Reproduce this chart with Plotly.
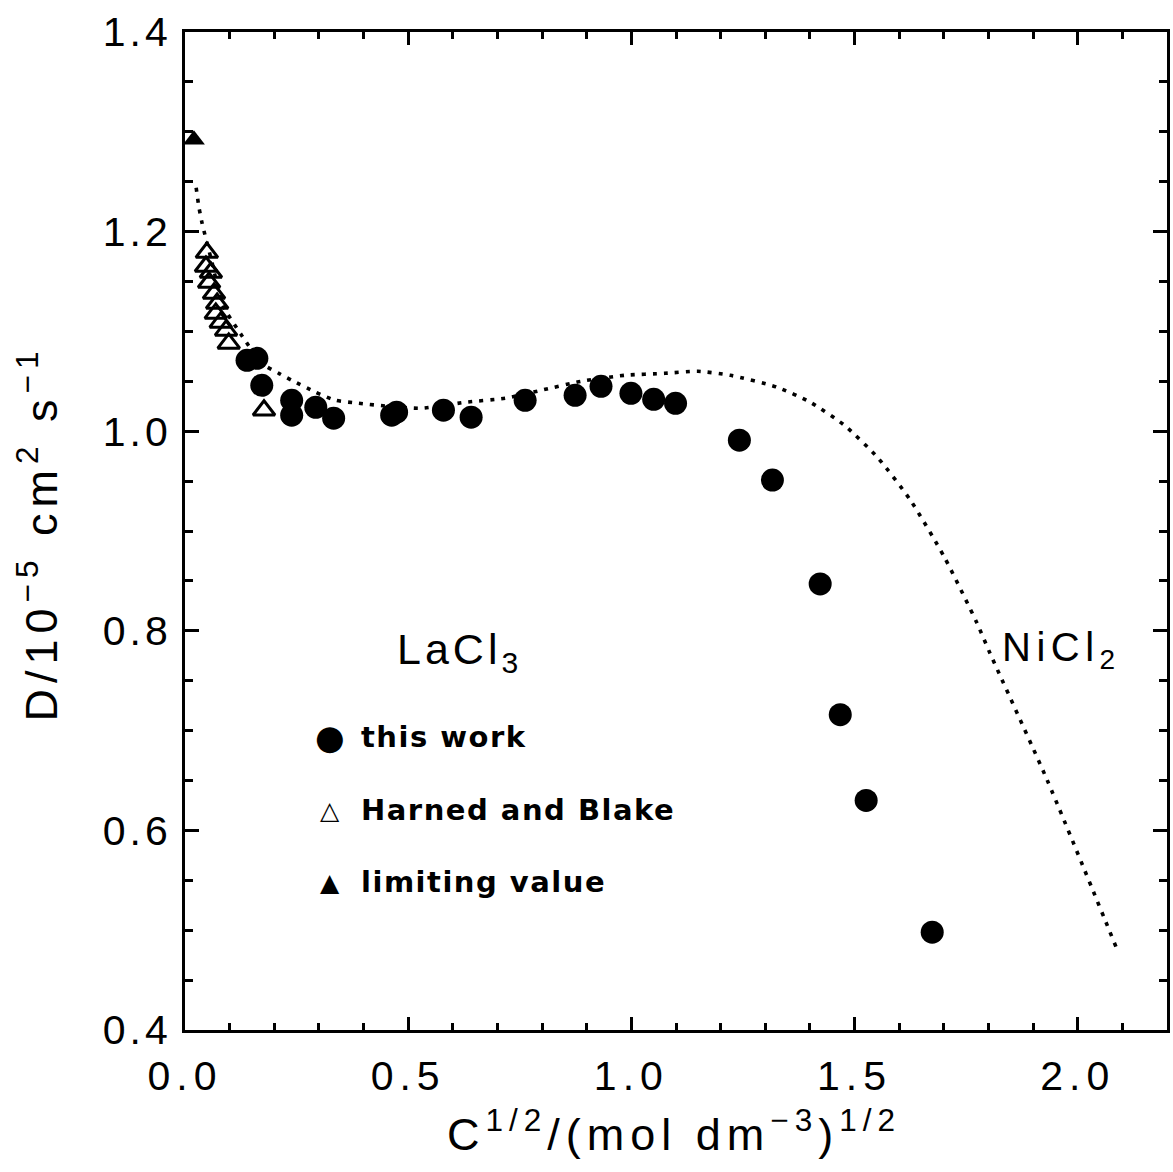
import plotly.graph_objects as go

# ---- data ----
this_work_x = [0.139, 0.161, 0.172, 0.239, 0.239, 0.293, 0.333, 0.463, 0.474, 0.579, 0.641,
               0.762, 0.874, 0.932, 0.999, 1.050, 1.099, 1.242, 1.316, 1.423, 1.468, 1.526, 1.674]
this_work_y = [1.071, 1.073, 1.046, 1.031, 1.016, 1.024, 1.013, 1.016, 1.019, 1.021, 1.014,
               1.031, 1.036, 1.045, 1.038, 1.032, 1.028, 0.991, 0.951, 0.847, 0.716, 0.630, 0.498]

harned_x = [0.049, 0.047, 0.058, 0.054, 0.065, 0.072, 0.069, 0.080, 0.092, 0.098, 0.177]
harned_y = [1.179, 1.165, 1.159, 1.149, 1.138, 1.128, 1.118, 1.109, 1.101, 1.088, 1.021]

limit_x = [0.020]
limit_y = [1.292]

nicl2_x = [0.025, 0.031, 0.038, 0.060, 0.085, 0.127, 0.172, 0.210, 0.239, 0.293, 0.337, 0.389,
           0.456, 0.530, 0.628, 0.717, 0.798, 0.887, 0.985, 1.075, 1.149, 1.222, 1.327,
           1.401, 1.477, 1.551, 1.625, 1.701, 1.774, 1.803, 1.931, 2.087]
nicl2_y = [1.244, 1.225, 1.209, 1.170, 1.126, 1.096, 1.068, 1.058, 1.051, 1.039, 1.031, 1.028,
           1.025, 1.023, 1.029, 1.033, 1.041, 1.050, 1.056, 1.058, 1.060, 1.056, 1.044,
           1.029, 1.006, 0.974, 0.931, 0.874, 0.808, 0.778, 0.651, 0.482]

x_ticks = [0.0, 0.5, 1.0, 1.5, 2.0]
y_ticks = [0.4, 0.6, 0.8, 1.0, 1.2, 1.4]

W, H = 1173, 1172
ML, MR, MT, MB = 185, 3, 32, 142

def px_x(p):
    return (p - ML) / (W - ML - MR)

def px_y(p):
    return 1 - (p - MT) / (H - MT - MB)

def spaced(t, s):
    return f'<span style="letter-spacing:{s}px">{t}</span>'

fig = go.Figure()

fig.add_trace(go.Scatter(x=nicl2_x, y=nicl2_y, mode="lines",
                         line=dict(color="black", width=3.6, dash="4px,7px", shape="spline", smoothing=0.6),
                         showlegend=False, hoverinfo="skip"))
fig.add_trace(go.Scatter(x=harned_x, y=harned_y, mode="markers", name="Harned and Blake",
                         marker=dict(symbol="triangle-up-open", size=19, color="black",
                                     line=dict(width=3, color="black")), showlegend=False))
fig.add_trace(go.Scatter(x=this_work_x, y=this_work_y, mode="markers", name="this work",
                         marker=dict(symbol="circle", size=23, color="black"), showlegend=False))
fig.add_trace(go.Scatter(x=limit_x, y=limit_y, mode="markers", name="limiting value",
                         marker=dict(symbol="triangle-up", size=19, color="black"),
                         showlegend=False, cliponaxis=False))

tick_font = dict(family="Liberation Sans, Arial, sans-serif", size=41, color="black")
axis_common = dict(showline=True, linecolor="black", linewidth=3, mirror="ticks",
                   ticks="inside", tickcolor="black", tickwidth=2.5, showgrid=False,
                   zeroline=False, tickfont=tick_font)

fig.update_xaxes(range=[0, 2.2], tickvals=x_ticks, ticktext=[spaced(f"{v:.1f}", 6) for v in x_ticks],
                 ticklen=13, minor=dict(dtick=0.1, tick0=0, ticklen=7, ticks="inside",
                                        tickcolor="black", tickwidth=2.5),
                 ticklabelstandoff=8, **axis_common)
fig.update_yaxes(range=[0.4, 1.4], tickvals=y_ticks, ticktext=[spaced(f"{v:.1f}", 4) for v in y_ticks],
                 ticklen=14, minor=dict(dtick=0.05, tick0=0.4, ticklen=8, ticks="inside",
                                        tickcolor="black", tickwidth=2.5),
                 ticklabelstandoff=2, **axis_common)

title_font = dict(family="Liberation Sans, Arial, sans-serif", size=45, color="black")
ann = []
ann.append(dict(xref="paper", yref="paper", x=px_x(675), y=px_y(1131), xanchor="center", yanchor="middle",
                text=spaced("C<sup>1/2</sup>/(mol dm<sup>−3</sup>)<sup>1/2</sup>", 6), showarrow=False, font=title_font))
ann.append(dict(xref="paper", yref="paper", x=px_x(38), y=px_y(533), xanchor="center", yanchor="middle",
                textangle=-90, text=spaced("D/10<sup>−5</sup> cm<sup>2</sup> s<sup>−1</sup>", 6),
                showarrow=False, font=title_font))
lab_font = dict(family="Liberation Sans, Arial, sans-serif", size=43, color="black")
ann.append(dict(xref="paper", yref="paper", x=px_x(396), y=px_y(652), xanchor="left", yanchor="middle",
                text=spaced("LaCl<sub>3</sub>", 4), showarrow=False, font=lab_font))
ann.append(dict(xref="paper", yref="paper", x=px_x(1002), y=px_y(650), xanchor="left", yanchor="middle",
                text=spaced("NiCl<sub>2</sub>", 5.5), showarrow=False,
                font=dict(family="Liberation Sans, Arial, sans-serif", size=40, color="black")))

leg_font = dict(family="DejaVu Sans, sans-serif", size=29, color="black")
legend_items = [("●", "this work", 737, 34), ("△", "Harned and Blake", 810, 25), ("▲", "limiting value", 882, 25)]
for sym, txt, py, ss in legend_items:
    ann.append(dict(xref="paper", yref="paper", x=px_x(330), y=px_y(py), xanchor="center", yanchor="middle",
                    text=sym, showarrow=False, font=dict(family="DejaVu Sans, sans-serif", size=ss, color="black")))
    ann.append(dict(xref="paper", yref="paper", x=px_x(360), y=px_y(py), xanchor="left", yanchor="middle",
                    text=spaced(f"<b>{txt}</b>", 1.5), showarrow=False, font=leg_font))

fig.update_layout(width=W, height=H, margin=dict(l=ML, r=MR, t=MT, b=MB),
                  plot_bgcolor="white", paper_bgcolor="white", annotations=ann, showlegend=False)

fig.write_html("out.html")
